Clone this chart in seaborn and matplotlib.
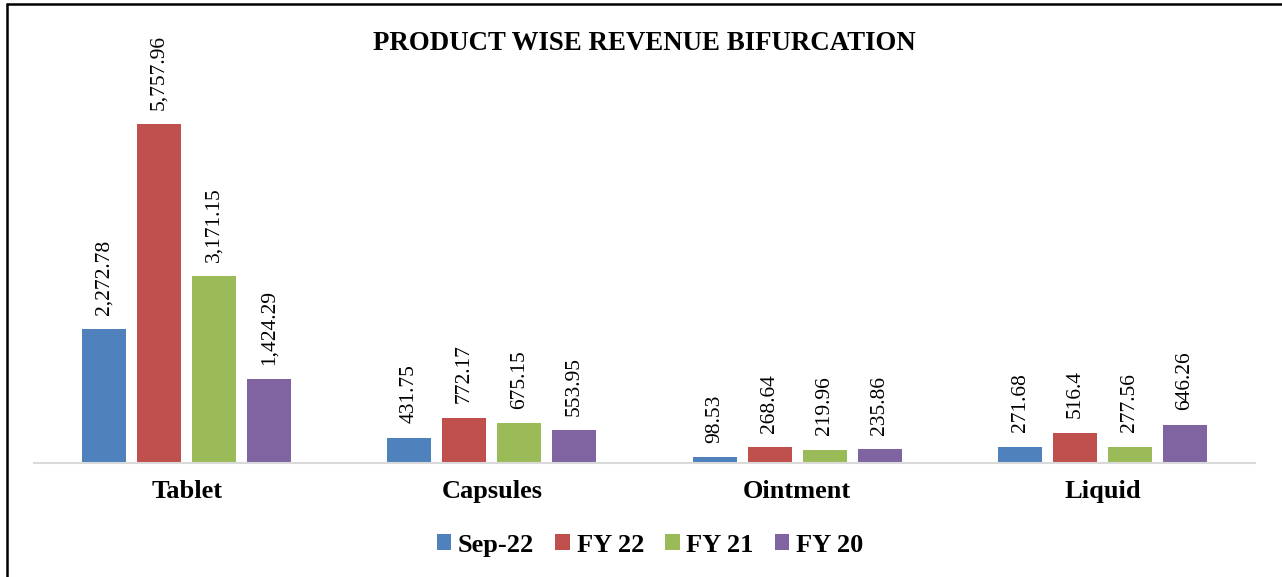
import pandas as pd
import matplotlib
matplotlib.use("Agg")
import matplotlib.pyplot as plt
import seaborn as sns
from matplotlib.lines import Line2D

# chart data
categories = ['Tablet', 'Capsules', 'Ointment', 'Liquid']
periods = ['Sep-22', 'FY 22', 'FY 21', 'FY 20']
sep22 = [2272.78, 431.75, 98.53, 271.68]
fy22 = [5757.96, 772.17, 268.64, 516.40]
fy21 = [3171.15, 675.15, 219.96, 277.56]
fy20 = [1424.29, 553.95, 235.86, 646.26]
value_labels = [
    ['2,272.78', '431.75', '98.53', '271.68'],
    ['5,757.96', '772.17', '268.64', '516.4'],
    ['3,171.15', '675.15', '219.96', '277.56'],
    ['1,424.29', '553.95', '235.86', '646.26'],
]
colors = ['#4F81BD', '#C0504D', '#9BBB59', '#8064A2']

rows = []
for period, vals in zip(periods, [sep22, fy22, fy21, fy20]):
    for cat, v in zip(categories, vals):
        rows.append({'Category': cat, 'Period': period, 'Revenue': v})
df = pd.DataFrame(rows)

sns.set_style('white')
plt.rcParams['font.family'] = ['Liberation Serif', 'DejaVu Serif']
plt.rcParams['text.color'] = 'black'
plt.rcParams['xtick.color'] = 'black'

fig = plt.figure(figsize=(12.82, 5.77), dpi=100)
ax = fig.add_axes([0.0265, 0.1976, 0.9525, 0.714])

sns.barplot(data=df, x='Category', y='Revenue', hue='Period', order=categories,
            hue_order=periods, palette=colors, width=0.72, gap=0.2,
            saturation=1, edgecolor='none', ax=ax, legend=True)

# value labels above bars
for container, labels in zip(ax.containers, value_labels):
    for bar, lab in zip(container, labels):
        ax.annotate(lab, (bar.get_x() + bar.get_width() / 2, bar.get_height()),
                    xytext=(0, 10.5), textcoords='offset points', rotation=90,
                    ha='center', va='bottom', fontsize=15.5, color='black')

ax.set_ylim(0, 7000)
ax.set_xlim(-0.5, 3.5)
ax.set_xlabel('')
ax.set_ylabel('')
ax.set_yticks([])
ax.tick_params(axis='x', length=0, pad=12, labelcolor='black')
for lbl in ax.get_xticklabels():
    lbl.set_fontsize(19)
    lbl.set_fontweight('bold')
for side in ['top', 'right', 'left']:
    ax.spines[side].set_visible(False)
ax.spines['bottom'].set_color('#D9D9D9')
ax.spines['bottom'].set_linewidth(1.5)

handles, labels = ax.get_legend_handles_labels()
ax.legend(handles, labels, loc='center', bbox_to_anchor=(0.507, 0.055),
          bbox_transform=fig.transFigure, ncol=4, frameon=False,
          handlelength=0.55, handleheight=0.55, handletextpad=0.25,
          columnspacing=0.8, labelcolor='black',
          prop={'weight': 'bold', 'size': 19})

fig.text(0.503, 0.925, 'PRODUCT WISE REVENUE BIFURCATION', ha='center', va='center',
         fontsize=19.4, fontweight='bold', color='black')

# outer border (left and top visible)
fig.add_artist(Line2D([7 / 1282, 7 / 1282], [0, 1 - 4 / 577], transform=fig.transFigure,
                      color='black', linewidth=1.8))
fig.add_artist(Line2D([7 / 1282, 1], [1 - 4 / 577, 1 - 4 / 577], transform=fig.transFigure,
                      color='black', linewidth=1.8))

fig.savefig('out.png', dpi=100)
